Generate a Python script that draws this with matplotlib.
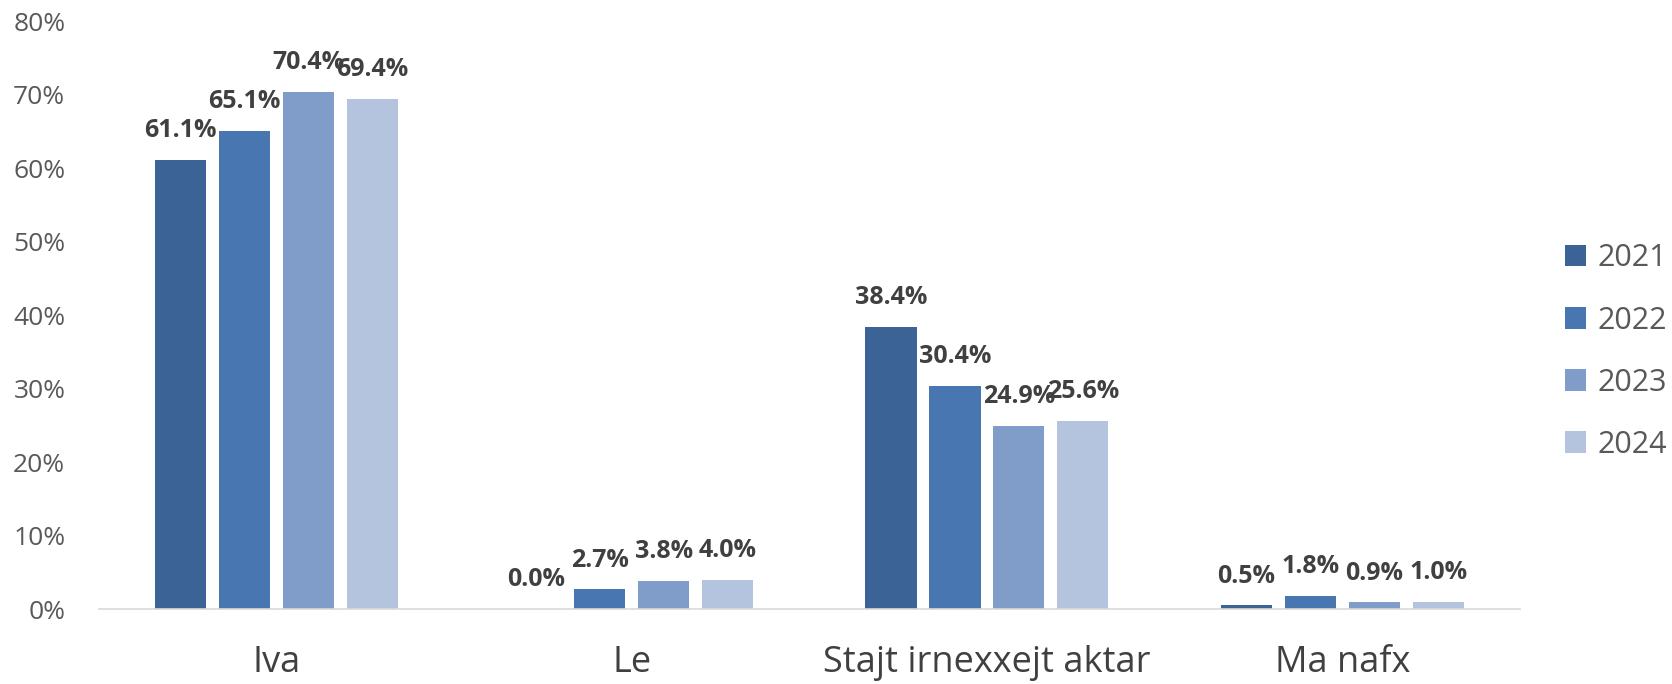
import numpy as np
import matplotlib.pyplot as plt

plt.rcParams['font.family'] = ['Open Sans', 'DejaVu Sans']

categorias = ['Iva', 'Le', 'Stajt irnexxejt aktar', 'Ma nafx']
anos = ['2021', '2022', '2023', '2024']
v2021 = [61.1, 0.0, 38.4, 0.5]
v2022 = [65.1, 2.7, 30.4, 1.8]
v2023 = [70.4, 3.8, 24.9, 0.9]
v2024 = [69.4, 4.0, 25.6, 1.0]
series = [v2021, v2022, v2023, v2024]
cores = ['#3B6396', '#4776B0', '#7F9DC8', '#B5C4DE']

fig = plt.figure(figsize=(16.72, 6.84), dpi=100)
ax = fig.add_axes([0.059, 0.1096, 0.85, 0.8596])

x = np.arange(len(categorias))
passo = 0.18
largura = 0.144
for i, vals in enumerate(series):
    pos = x + (i - 1.5) * passo
    barras = ax.bar(pos, [v / 100 for v in vals], largura, color=cores[i], label=anos[i])
    for b, v in zip(barras, vals):
        ax.annotate(f'{v:.1f}%', (b.get_x() + b.get_width() / 2, b.get_height()),
                    xytext=(0, 12), textcoords='offset points', ha='center', va='bottom',
                    fontsize=18, fontweight='bold', color='#404040')

ax.set_xlim(-0.5, 3.5)
ax.set_ylim(0, 0.8)
ax.set_yticks(np.arange(0, 0.81, 0.1))
ax.set_yticklabels([f'{int(round(t * 100))}%' for t in np.arange(0, 0.81, 0.1)])
ax.set_xticks(x)
ax.set_xticklabels(categorias)
ax.tick_params(axis='y', length=0, labelsize=19, labelcolor='#595959', pad=24)
ax.tick_params(axis='x', length=0, labelsize=26, labelcolor='#404040', pad=26)
for s in ['top', 'right', 'left']:
    ax.spines[s].set_visible(False)
ax.spines['bottom'].set_color('#D9D9D9')
ax.spines['bottom'].set_linewidth(1.2)

leg = fig.legend(loc='center left', bbox_to_anchor=(0.936, 0.486), frameon=False,
                 fontsize=22, handlelength=0.7, handleheight=0.7, handletextpad=0.35,
                 labelspacing=1.05, labelcolor='#595959', borderpad=0, borderaxespad=0)

fig.savefig('out.png', dpi=100)
